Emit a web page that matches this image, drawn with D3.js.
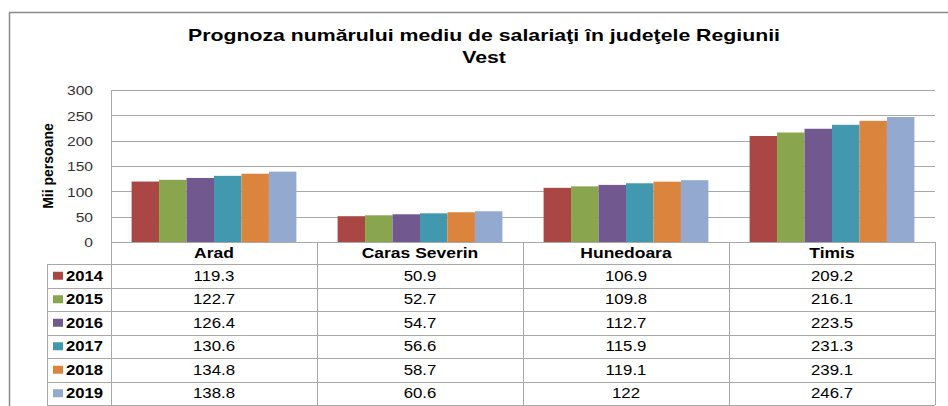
<!DOCTYPE html>
<meta charset="utf-8">
<style>
  body { margin: 0; background: #fff; }
  text { font-family: "Liberation Sans", Arial, sans-serif; }
</style>
<body>
<script src="https://d3js.org/d3.v7.min.js"></script>
<script>

// data
var categories = ["Arad", "Caras Severin", "Hunedoara", "Timis"];
var years = ["2014", "2015", "2016", "2017", "2018", "2019"];
var v2014 = [119.3, 50.9, 106.9, 209.2];
var v2015 = [122.7, 52.7, 109.8, 216.1];
var v2016 = [126.4, 54.7, 112.7, 223.5];
var v2017 = [130.6, 56.6, 115.9, 231.3];
var v2018 = [134.8, 58.7, 119.1, 239.1];
var v2019 = [138.8, 60.6, 122, 246.7];
var yTicks = [0, 50, 100, 150, 200, 250, 300];

var series = [v2014, v2015, v2016, v2017, v2018, v2019];
var colors = ["#AA4643", "#89A54E", "#71588F", "#4198AF", "#DB843D", "#93A9CF"];

var W = 948, H = 406;
var plot = {left: 111, right: 935, top: 90, bottom: 242};
var legendLeft = 47;
var headerH = 22, rowH = 23.5;

// the source rendering is a bit wider than Arial, stretch text horizontally
function place(x, y, sx) {
  return "translate(" + x + "," + y + ") scale(" + sx + ",1)";
}

var svg = d3.select("body").append("svg")
    .attr("width", W)
    .attr("height", H);

// outer chart border (left and top visible)
svg.append("path")
  .attr("d", "M9.5," + H + "V12.5H" + W)
  .attr("fill", "none")
  .attr("stroke", "#8a8a8a")
  .attr("stroke-width", 1.5);

// title
svg.append("text")
  .attr("transform", place(484, 41, 1.33))
  .attr("text-anchor", "middle")
  .style("font-weight", "bold")
  .style("font-size", "16px")
  .text("Prognoza numărului mediu de salariaţi în judeţele Regiunii");
svg.append("text")
  .attr("transform", place(484, 63, 1.33))
  .attr("text-anchor", "middle")
  .style("font-weight", "bold")
  .style("font-size", "16px")
  .text("Vest");

// scales
var x = d3.scaleBand()
  .domain(categories)
  .range([plot.left, plot.right]);

// Excel gap width 150%: 6 bars + 1.5 bar widths per category
var xInner = d3.scaleBand()
  .domain(years)
  .range([0, x.bandwidth()])
  .paddingOuter(0.75)
  .paddingInner(0);

var y = d3.scaleLinear()
  .domain([0, 300])
  .range([plot.bottom, plot.top]);

// gridlines
svg.append("g")
  .selectAll("line")
  .data(yTicks)
  .enter()
  .append("line")
    .attr("x1", plot.left)
    .attr("x2", plot.right)
    .attr("y1", function(d) { return Math.round(y(d)) + 0.5; })
    .attr("y2", function(d) { return Math.round(y(d)) + 0.5; })
    .attr("stroke", "#a8a8a8")
    .attr("stroke-width", 1);

// y axis
var yAxis = svg.append("g")
  .attr("transform", "translate(" + plot.left + ",0)")
  .call(d3.axisLeft(y).tickValues(yTicks).tickSize(0).tickPadding(18));
yAxis.select(".domain").attr("stroke", "#a8a8a8");
yAxis.selectAll("text")
  .attr("x", 0)
  .attr("dy", "0.36em")
  .attr("transform", "translate(-18,0) scale(1.2,1)")
  .style("font-size", "13px")
  .style("fill", "#333")
  .style("font-family", "'Liberation Sans', Arial, sans-serif");

svg.append("text")
  .attr("transform", "translate(53,166) rotate(-90)")
  .attr("text-anchor", "middle")
  .style("font-weight", "bold")
  .style("font-size", "14px")
  .text("Mii persoane");

// bars
svg.append("g")
  .selectAll("g")
  .data(series)
  .enter()
  .append("g")
    .attr("fill", function(d, i) { return colors[i]; })
  .selectAll("rect")
  .data(function(d, i) {
    return d.map(function(v, j) { return {cat: categories[j], year: years[i], value: v}; });
  })
  .enter()
  .append("rect")
    .attr("x", function(d) { return x(d.cat) + xInner(d.year); })
    .attr("width", xInner.bandwidth())
    .attr("y", function(d) { return y(d.value); })
    .attr("height", function(d) { return y(0) - y(d.value); });

// data table
var tableTop = plot.bottom;
var rowsTop = tableTop + headerH;
var tableBottom = rowsTop + rowH * years.length;
var grid = svg.append("g").attr("stroke", "#a8a8a8").attr("stroke-width", 1).attr("fill", "none");

// vertical lines
grid.append("line")
  .attr("x1", legendLeft + 0.5).attr("x2", legendLeft + 0.5)
  .attr("y1", rowsTop).attr("y2", tableBottom);
categories.concat(["end"]).forEach(function(c, i) {
  var xx = i < categories.length ? x(c) : plot.right;
  grid.append("line")
    .attr("x1", Math.round(xx) + 0.5).attr("x2", Math.round(xx) + 0.5)
    .attr("y1", tableTop).attr("y2", tableBottom);
});
// horizontal lines
d3.range(years.length + 1).forEach(function(i) {
  var yy = Math.round(rowsTop + i * rowH) + 0.5;
  grid.append("line")
    .attr("x1", legendLeft).attr("x2", plot.right)
    .attr("y1", yy).attr("y2", yy);
});

// header
svg.append("g")
  .selectAll("text")
  .data(categories)
  .enter()
  .append("text")
    .attr("transform", function(d) { return place(x(d) + x.bandwidth() / 2, tableTop + headerH / 2 + 5, 1.25); })
    .attr("text-anchor", "middle")
    .style("font-weight", "bold")
    .style("font-size", "14px")
    .text(function(d) { return d; });

// legend column + values
years.forEach(function(yr, i) {
  var cy = rowsTop + i * rowH + rowH / 2;
  svg.append("rect")
    .attr("x", 53)
    .attr("y", cy - 4)
    .attr("width", 10)
    .attr("height", 8)
    .attr("fill", colors[i]);
  svg.append("text")
    .attr("transform", place(66, cy + 5, 1.19))
    .style("font-weight", "bold")
    .style("font-size", "14px")
    .text(yr);
  svg.append("g")
    .selectAll("text")
    .data(series[i])
    .enter()
    .append("text")
      .attr("transform", function(d, j) { return place(x(categories[j]) + x.bandwidth() / 2, cy + 5, 1.2); })
      .attr("text-anchor", "middle")
      .style("font-size", "14px")
      .text(function(d) { return d; });
});

</script>
</body>
